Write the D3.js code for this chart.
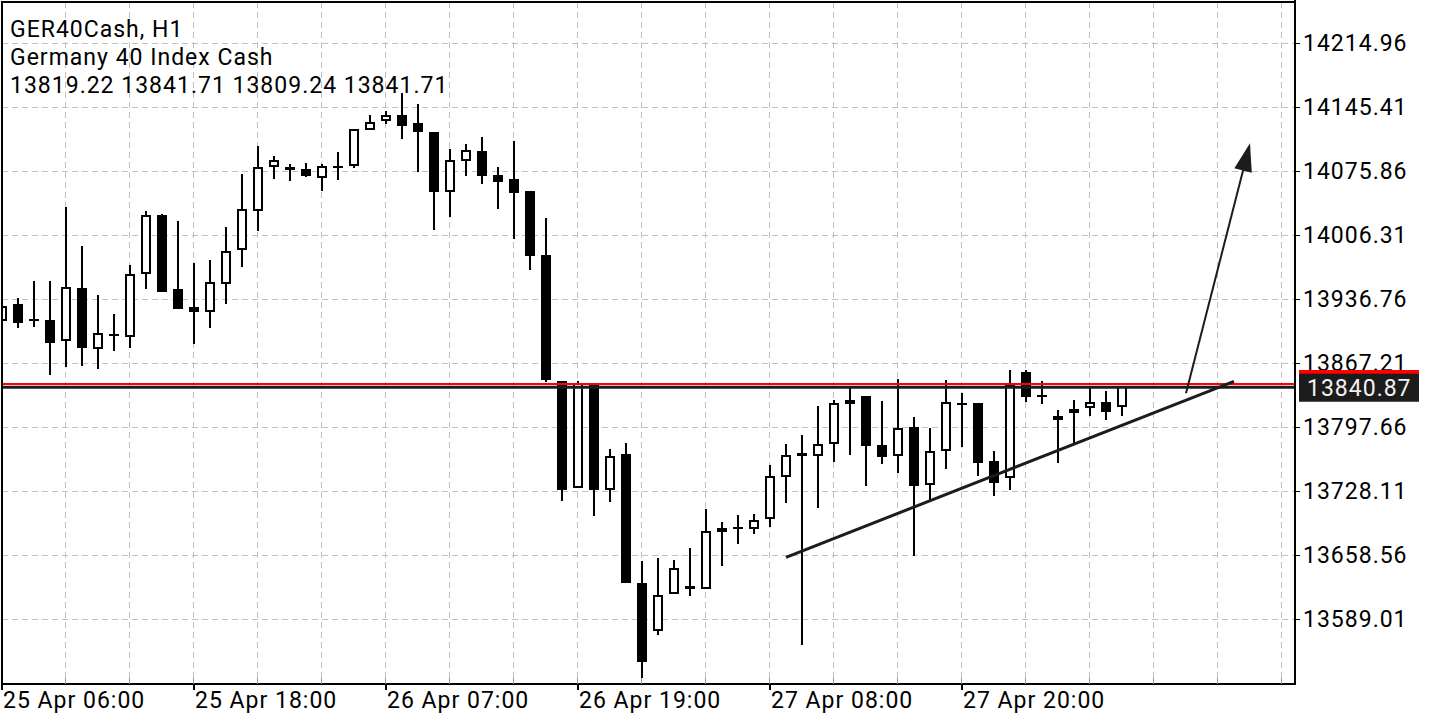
<!DOCTYPE html>
<html><head><meta charset="utf-8">
<script src="https://cdn.jsdelivr.net/npm/d3@7"></script>
<style>html,body{margin:0;padding:0;background:#fff;} svg{display:block;font-family:Roboto,"Noto Sans",sans-serif;}</style>
</head><body>
<svg id="c" width="1440" height="720"></svg>
<script>
const symbolTitle = "GER40Cash, H1";
const description = "Germany 40 Index Cash";
const opens = [13912.85,13931.33,13914.48,13913.94,13891.12,13948.39,13882.43,13898.73,13895.14,13963.93,
14028.05,13947.30,13927.74,13922.63,13953.06,13989.68,14032.39,14079.88,14079.88,14077.71,
14067.93,14081.29,14081.29,14120.42,14129.87,14136.72,14128.02,14118.24,14052.71,14086.73,
14097.60,14071.51,14067.17,14054.13,13984.58,13847.65,13731.04,13843.30,13728.87,13767.99,
13627.81,13575.64,13615.85,13621.29,13621.29,13683.23,13688.99,13686.49,13697.36,13743.32,
13769.73,13765.82,13778.86,13822.66,13831.35,13777.77,13765.82,13797.34,13734.30,13771.58,
13823.74,13823.74,13760.71,13742.24,13857.10,13832.44,13805.27,13812.88,13817.98,13824.50,
13819.22];
const highs = [13932.41,13937.52,13956.32,13956.32,14036.41,13994.36,13941.11,13920.46,13973.71,14032.39,
14029.13,14021.52,13976.21,13979.14,14015.33,14072.60,14103.03,14092.16,14083.14,14084.23,
14083.47,14096.51,14121.18,14136.72,14141.06,14160.62,14148.67,14118.24,14099.77,14105.20,
14112.81,14079.88,14108.46,14054.13,14025.11,13847.65,13847.65,13844.39,13773.43,13779.95,
13651.71,13654.97,13652.80,13665.84,13708.22,13694.10,13702.03,13702.79,13756.04,13779.19,
13788.97,13820.48,13827.00,13840.04,13831.35,13825.92,13849.82,13808.20,13796.25,13848.74,
13834.28,13823.74,13771.91,13859.60,13859.60,13847.32,13815.81,13826.68,13840.04,13836.78,
13841.71];
const lows = [13910.68,13904.92,13906.01,13854.50,13863.19,13864.28,13860.36,13880.58,13883.84,13947.95,
13944.70,13925.57,13887.86,13905.25,13931.65,13971.86,14010.66,14067.49,14065.32,14069.67,
14054.13,14066.08,14079.45,14120.42,14126.61,14110.96,14075.10,14012.07,14026.20,14070.43,
14062.06,14034.89,14002.29,13968.28,13846.89,13717.57,13731.04,13701.27,13716.48,13628.46,
13525.22,13571.62,13615.85,13614.33,13621.29,13646.93,13670.84,13681.71,13689.32,13715.40,
13560.76,13709.96,13759.95,13767.23,13733.54,13757.13,13748.00,13657.80,13718.33,13752.34,
13776.25,13744.74,13723.00,13729.74,13825.16,13822.33,13758.86,13779.95,13809.94,13805.27,
13809.24];
const closes = [13929.48,13911.01,13913.40,13888.62,13949.48,13883.19,13900.14,13897.86,13963.60,14027.72,
13944.70,13926.22,13922.31,13954.91,13989.25,14034.24,14080.53,14087.49,14076.95,14070.75,
14081.29,14080.43,14121.18,14129.44,14136.39,14125.09,14117.92,14053.37,14087.49,14098.36,
14070.75,14064.23,14052.28,13983.82,13848.74,13729.20,13845.48,13729.20,13766.47,13628.46,
13542.61,13615.42,13644.76,13625.20,13684.97,13688.23,13688.34,13696.92,13744.74,13767.56,
13765.82,13779.51,13823.42,13827.33,13777.34,13765.39,13796.25,13733.54,13771.25,13824.50,
13822.98,13758.86,13737.13,13844.17,13830.59,13831.78,13809.61,13816.90,13824.50,13813.64,
13841.71];
const priceTicks = [13589.01,13658.56,13728.11,13797.66,13867.21,13936.76,14006.31,14075.86,14145.41,14214.96];
const timeLabels = ["25 Apr 06:00","25 Apr 18:00","26 Apr 07:00","26 Apr 19:00","27 Apr 08:00","27 Apr 20:00"];
const timeLabelBars = [0,12,24,36,48,60];
const bidPrice = 13840.87;
const askPrice = 13844.40;
const trendBars = [49,77];
const trendPrices = [13656.06,13847.30];
const arrowBars = [74,78];
const arrowPrices = [13834.30,14105.90];

const svg = d3.select("#c");
const L = 2, T = 2, R = 1295, B = 684;
const FS = 23, LS = 1;
const x = d3.scaleLinear().domain([0,80]).range([2,1282]);
const y = d3.scaleLinear().domain([13589.01,14214.96]).range([619,43]);
const ink = "#000";

svg.append("defs").append("clipPath").attr("id","plot")
  .append("rect").attr("x",L).attr("y",T).attr("width",R-L).attr("height",B-T);

const grid = svg.append("g").attr("stroke","#c0c0c0").attr("stroke-width",1)
  .attr("stroke-dasharray","6,4").attr("shape-rendering","crispEdges");
const gridBars = d3.range(4,81,4);
grid.selectAll("line.v").data(gridBars).join("line")
  .attr("x1",d=>Math.round(x(d))-0.5).attr("x2",d=>Math.round(x(d))-0.5)
  .attr("y1",T).attr("y2",B);
grid.selectAll("line.h").data(priceTicks).join("line")
  .attr("x1",L).attr("x2",R)
  .attr("y1",d=>Math.round(y(d))+0.5).attr("y2",d=>Math.round(y(d))+0.5);

// header
const hdr = svg.append("g").attr("font-size",FS).attr("letter-spacing",LS).attr("fill",ink);
const lastI = closes.length-1;
const ohlc = [opens[lastI],highs[lastI],lows[lastI],closes[lastI]].map(v=>v.toFixed(2)).join(" ");
[symbolTitle, description, ohlc].forEach((t,i)=>{
  hdr.append("text").attr("x",10).attr("y",37+i*28).text(t);
});

// candles
const data = opens.map((o,i)=>({i,o,h:highs[i],l:lows[i],c:closes[i]}));
const cg = svg.append("g").attr("clip-path","url(#plot)").attr("shape-rendering","crispEdges");
data.forEach(d=>{
  const cx = Math.round(x(d.i));
  const yh = Math.round(y(d.h)), yl = Math.round(y(d.l));
  const top = Math.round(y(Math.max(d.o,d.c))), bot = Math.round(y(Math.min(d.o,d.c)));
  cg.append("rect").attr("x",cx-1).attr("y",yh).attr("width",2).attr("height",Math.max(yl-yh,1)).attr("fill",ink);
  const bull = d.c > d.o;
  const hgt = bot-top;
  if (bull && hgt >= 4) {
    cg.append("rect").attr("x",cx-4).attr("y",top+1).attr("width",8).attr("height",hgt-2)
      .attr("fill","#fff").attr("stroke",ink).attr("stroke-width",2);
  } else {
    cg.append("rect").attr("x",cx-5).attr("y",hgt<2? Math.round((top+bot)/2)-1 : top)
      .attr("width",10).attr("height",Math.max(hgt,2)).attr("fill",ink);
  }
});

// bid / ask lines
const lg = svg.append("g").attr("clip-path","url(#plot)");
lg.append("line").attr("x1",L).attr("x2",R).attr("y1",y(askPrice)).attr("y2",y(askPrice))
  .attr("stroke","#ff0000").attr("stroke-width",2);
lg.append("line").attr("x1",L).attr("x2",R).attr("y1",y(bidPrice)).attr("y2",y(bidPrice))
  .attr("stroke","#1c1c1c").attr("stroke-width",3);

// trend line
lg.append("line")
  .attr("x1",x(trendBars[0])).attr("y1",y(trendPrices[0]))
  .attr("x2",x(trendBars[1])).attr("y2",y(trendPrices[1]))
  .attr("stroke","#1c1c1c").attr("stroke-width",3);

// arrow
const ax0 = x(arrowBars[0]), ay0 = y(arrowPrices[0]), ax1 = x(arrowBars[1]), ay1 = y(arrowPrices[1]);
const len = Math.hypot(ax1-ax0, ay1-ay0), ux=(ax1-ax0)/len, uy=(ay1-ay0)/len, nx=-uy, ny=ux;
const hl = 28, hw = 9;
lg.append("line").attr("x1",ax0).attr("y1",ay0).attr("x2",ax1-ux*(hl-2)).attr("y2",ay1-uy*(hl-2))
  .attr("stroke","#1c1c1c").attr("stroke-width",2);
lg.append("polygon").attr("fill","#1c1c1c")
  .attr("points",[[ax1,ay1],[ax1-ux*hl+nx*hw, ay1-uy*hl+ny*hw],[ax1-ux*hl-nx*hw, ay1-uy*hl-ny*hw]].map(p=>p.join(",")).join(" "));

// frame
svg.append("rect").attr("x",L).attr("y",T).attr("width",R-L).attr("height",B-T)
  .attr("fill","none").attr("stroke",ink).attr("stroke-width",2).attr("shape-rendering","crispEdges");
svg.append("line").attr("x1",R).attr("x2",R).attr("y1",0).attr("y2",B).attr("stroke",ink).attr("stroke-width",2);

// right axis
const ya = svg.append("g").attr("font-size",FS).attr("letter-spacing",LS).attr("fill",ink);
priceTicks.forEach(v=>{
  const yy = Math.round(y(v));
  ya.append("line").attr("x1",R).attr("x2",R+5).attr("y1",yy+0.5).attr("y2",yy+0.5).attr("stroke",ink).attr("stroke-width",1);
  ya.append("text").attr("x",1303).attr("y",yy+8).text(v.toFixed(2));
});
// price labels
const ay = y(askPrice), by = y(bidPrice);
svg.append("rect").attr("x",1299).attr("y",ay-14).attr("width",120).attr("height",28).attr("fill","#ff0000");
svg.append("rect").attr("x",1299).attr("y",by-13.5).attr("width",120).attr("height",28).attr("fill","#1c1c1c");
svg.append("text").attr("x",1307).attr("y",by+8.5).attr("font-size",FS).attr("letter-spacing",LS)
  .attr("fill","#f2f2f2").text(bidPrice.toFixed(2));

// bottom axis
const xa = svg.append("g").attr("font-size",FS).attr("letter-spacing",LS).attr("fill",ink);
gridBars.forEach(b=>{
  const xx = Math.round(x(b))-0.5;
  xa.append("line").attr("x1",xx).attr("x2",xx).attr("y1",B-6).attr("y2",B).attr("stroke","#999").attr("stroke-width",1);
});
timeLabels.forEach((t,i)=>{
  const xx = Math.round(x(timeLabelBars[i]));
  xa.append("line").attr("x1",xx).attr("x2",xx).attr("y1",B).attr("y2",B+6).attr("stroke",ink).attr("stroke-width",2);
  xa.append("text").attr("x",xx+1).attr("y",708).text(t);
});
</script>
</body></html>
